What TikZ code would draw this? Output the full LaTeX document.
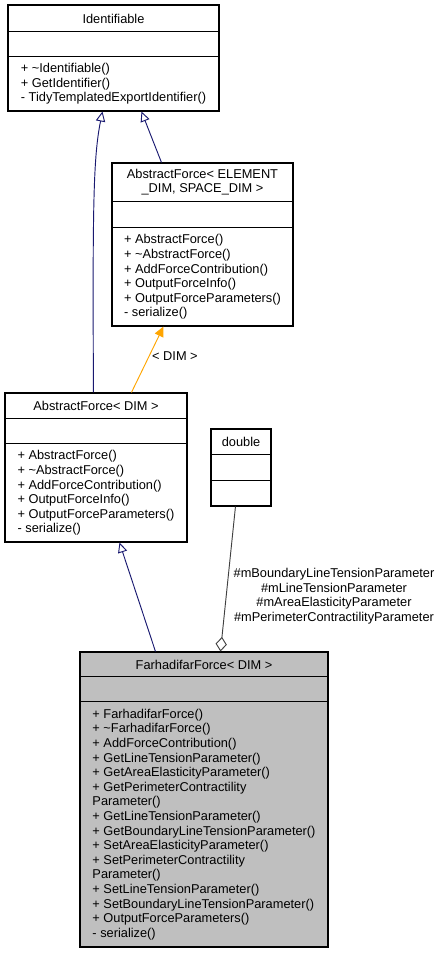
\documentclass[tikz,border=0pt]{standalone}
\usepackage{fontspec}
\setmainfont{Liberation Sans}
\usepackage{tikz}
\usetikzlibrary{arrows.meta,calc,fit}

\definecolor{inheritblue}{HTML}{191970}
\definecolor{templorange}{HTML}{FFA500}
\definecolor{usegray}{HTML}{404040}
\definecolor{classgray}{HTML}{BFBFBF}

\tikzset{
	classbox/.style={draw, line width=0.8pt, inner sep=0pt},
	members/.style={align=left, inner sep=0pt},
	inherit/.style={draw=inheritblue, line width=0.7pt, -{Triangle[open,length=7.5pt,width=7pt]}},
	instance/.style={draw=templorange, line width=0.7pt, -{Triangle[length=7.5pt,width=7pt]}},
	usage/.style={draw=usegray, line width=0.7pt, -{Diamond[open,length=11pt,width=8.5pt]}}
}

% two horizontal lines across a class box, given as offsets from its top
\newcommand{\splitbox}[3]{
	\draw[line width=0.8pt]
		($(#1.north west)+(0,#2)$) -- ($(#1.north east)+(0,#2)$)
		($(#1.north west)+(0,#3)$) -- ($(#1.north east)+(0,#3)$);
}

\begin{document}
\begin{tikzpicture}[x=0.75pt,y=-0.75pt,font=\fontsize{9.6}{10.95}\selectfont]
		\useasboundingbox (0,0) rectangle (443,955);

		% Identifiable
		\node[classbox, fit={(8,5) (219,111)}] (ident) {};
		\splitbox{ident}{27}{52}
		\node (identname) at (113.5,18.5) {Identifiable};
		\node[members] (identops) at (113.5,84)
			{+ \textasciitilde Identifiable()\\+ GetIdentifier()\\- TidyTemplatedExportIdentifier()};

		% AbstractForce< ELEMENT_DIM, SPACE_DIM >
		\node[classbox, fit={(112,163) (293,326)}] (abselem) {};
		\splitbox{abselem}{39}{65}
		\node[align=center, inner sep=0pt] (abselemname) at (202.5,182)
			{AbstractForce< ELEMENT\\\_DIM, SPACE\_DIM >};
		\node[members] (abselemops) at (202.5,277)
			{+ AbstractForce()\\+ \textasciitilde AbstractForce()\\+ AddForceContribution()\\
			+ OutputForceInfo()\\+ OutputForceParameters()\\- serialize()};

		% AbstractForce< DIM >
		\node[classbox, fit={(5,393) (187,542)}] (absdim) {};
		\splitbox{absdim}{26}{51}
		\node (absdimname) at (96,406) {AbstractForce< DIM >};
		\node[members] (absdimops) at (96,493)
			{+ AbstractForce()\\+ \textasciitilde AbstractForce()\\+ AddForceContribution()\\
			+ OutputForceInfo()\\+ OutputForceParameters()\\- serialize()};

		% double
		\node[classbox, fit={(211,429) (271,506)}] (dbl) {};
		\splitbox{dbl}{26}{52}
		\node (dblname) at (241,442) {double};

		% FarhadifarForce< DIM >
		\node[classbox, fill=classgray, fit={(80,652) (328,947)}] (farh) {};
		\splitbox{farh}{25}{50}
		\node (farhname) at (204,664.5) {FarhadifarForce< DIM >};
		\node[members] (farhops) at (204,824.5)
			{+ FarhadifarForce()\\+ \textasciitilde FarhadifarForce()\\+ AddForceContribution()\\
			+ GetLineTensionParameter()\\+ GetAreaElasticityParameter()\\
			+ GetPerimeterContractility\\Parameter()\\+ GetLineTensionParameter()\\
			+ GetBoundaryLineTensionParameter()\\+ SetAreaElasticityParameter()\\
			+ SetPerimeterContractility\\Parameter()\\+ SetLineTensionParameter()\\
			+ SetBoundaryLineTensionParameter()\\+ OutputForceParameters()\\- serialize()};

		% relations
		\draw[inherit] ($(absdim.north west)+(89,0)$)
			.. controls +(-1,-190) and +(-9,45) .. ($(ident.south west)+(95,0)$);
		\draw[inherit] ($(abselem.north west)+(50,0)$) -- ($(ident.south west)+(134,0)$);
		\draw[instance] ($(absdim.north west)+(127,0)$) -- ($(abselem.south west)+(52,0)$)
			node[pos=0.55, right=2pt, inner sep=0pt] (dimlabel) {< DIM >};
		\draw[inherit] ($(farh.north west)+(76,0)$) -- ($(absdim.south west)+(115,0)$);
		\draw[usage] ($(dbl.south west)+(25,0)$) -- ($(farh.north west)+(141,0)$);
		\node[align=center, inner sep=0pt] (attrs) at (334,596)
			{\#mBoundaryLineTensionParameter\\\#mLineTensionParameter\\
			\#mAreaElasticityParameter\\\#mPerimeterContractilityParameter};
\end{tikzpicture}
\end{document}
